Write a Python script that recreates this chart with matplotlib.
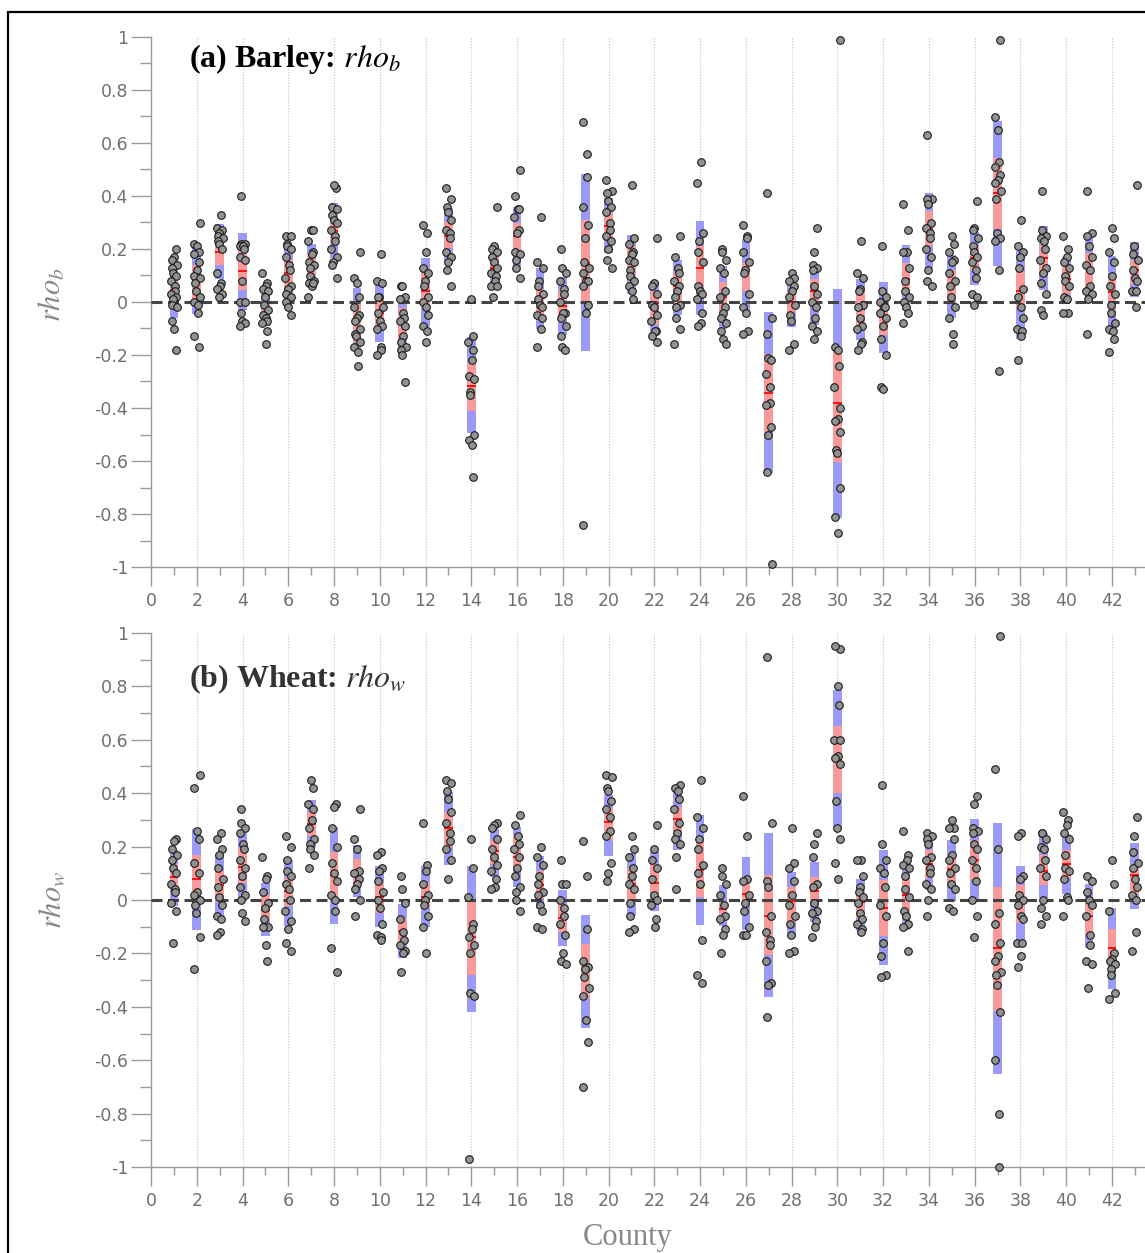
import numpy as np
import matplotlib
matplotlib.use("Agg")
import matplotlib.pyplot as plt
from matplotlib.patches import Rectangle

plt.rcParams['mathtext.fontset'] = 'stix'

counties = list(range(1, 44))

# ---------------- Panel (a) Barley ----------------
blue_lo_a = [-0.06, -0.045, 0.086, -0.03, -0.09, 0.0, 0.077, 0.166, -0.18, -0.152, -0.184, -0.094, 0.153, -0.496,
             0.045, 0.134, -0.103, -0.126, -0.184, 0.186, 0.03, -0.12, -0.05, -0.05, -0.103, -0.029, -0.645, -0.094,
             -0.087, -0.814, -0.145, -0.194, -0.032, 0.127, -0.061, 0.066, 0.136, -0.139, 0.045, -0.003, -0.003,
             -0.126, 0.019]
blue_hi_a = [0.152, 0.211, 0.294, 0.26, 0.05, 0.215, 0.22, 0.373, 0.052, 0.075, 0.017, 0.166, 0.355, -0.132,
             0.212, 0.36, 0.13, 0.095, 0.484, 0.393, 0.253, 0.079, 0.16, 0.305, 0.136, 0.238, -0.038, 0.079,
             0.123, 0.049, 0.088, 0.075, 0.214, 0.413, 0.179, 0.266, 0.683, 0.192, 0.287, 0.17, 0.253, 0.173, 0.227]
red_lo_a = [0.0, 0.01, 0.14, 0.045, -0.06, 0.05, 0.10, 0.22, -0.15, -0.10, -0.139, -0.022, 0.205, -0.41,
            0.10, 0.186, -0.048, -0.068, 0.004, 0.237, 0.10, -0.087, -0.003, 0.03, -0.061, 0.043, -0.49, -0.04,
            0.0, -0.604, -0.106, -0.126, 0.03, 0.212, 0.004, 0.12, 0.274, -0.022, 0.108, 0.03, 0.058, -0.032, 0.069]
red_hi_a = [0.09, 0.14, 0.24, 0.21, 0.0, 0.16, 0.18, 0.32, -0.004, 0.017, -0.022, 0.108, 0.30, -0.23,
            0.17, 0.30, 0.05, 0.043, 0.309, 0.34, 0.21, 0.043, 0.108, 0.21, 0.075, 0.149, -0.197, 0.04,
            0.085, -0.165, 0.05, -0.01, 0.149, 0.344, 0.12, 0.214, 0.543, 0.114, 0.214, 0.134, 0.186, 0.095, 0.16]
med_a = [0.047, 0.083, 0.19, 0.117, -0.02, 0.11, 0.145, 0.268, -0.06, -0.04, -0.084, 0.04, 0.25, -0.318,
         0.127, 0.248, 0.017, -0.016, 0.149, 0.287, 0.149, -0.003, 0.06, 0.127, 0.017, 0.12, -0.343, 0.0,
         0.04, -0.383, -0.026, -0.056, 0.086, 0.277, 0.069, 0.166, 0.41, 0.043, 0.166, 0.088, 0.127, 0.036, 0.121]
points_a = [
    [0.20, 0.17, 0.16, 0.14, 0.13, 0.11, 0.10, 0.08, 0.06, 0.04, 0.03, 0.02, 0.01, -0.01, -0.02, -0.07, -0.10, -0.18],
    [0.30, 0.22, 0.21, 0.19, 0.18, 0.15, 0.12, 0.10, 0.09, 0.07, 0.04, 0.02, 0.0, -0.01, -0.04, -0.13, -0.17],
    [0.33, 0.28, 0.27, 0.26, 0.25, 0.24, 0.23, 0.22, 0.20, 0.11, 0.07, 0.06, 0.05, 0.03, 0.02],
    [0.40, 0.22, 0.22, 0.21, 0.21, 0.20, 0.17, 0.16, 0.08, 0.0, 0.0, -0.04, -0.07, -0.08, -0.09],
    [0.11, 0.07, 0.06, 0.05, 0.04, 0.02, -0.01, -0.03, -0.05, -0.06, -0.07, -0.08, -0.11, -0.16],
    [0.25, 0.25, 0.22, 0.21, 0.20, 0.17, 0.14, 0.12, 0.09, 0.06, 0.05, 0.03, 0.02, 0.0, -0.02, -0.05],
    [0.27, 0.27, 0.23, 0.19, 0.18, 0.15, 0.14, 0.13, 0.10, 0.08, 0.07, 0.06, 0.07, 0.02],
    [0.43, 0.44, 0.36, 0.35, 0.33, 0.31, 0.30, 0.27, 0.25, 0.23, 0.20, 0.17, 0.15, 0.14, 0.09],
    [0.19, 0.09, 0.07, 0.02, -0.02, -0.05, -0.06, -0.07, -0.10, -0.12, -0.13, -0.15, -0.17, -0.19, -0.24],
    [0.18, 0.08, 0.07, 0.02, 0.02, -0.02, -0.04, -0.07, -0.09, -0.10, -0.17, -0.18, -0.20],
    [0.06, 0.06, 0.02, 0.01, -0.04, -0.06, -0.07, -0.09, -0.13, -0.15, -0.17, -0.18, -0.20, -0.30],
    [0.29, 0.26, 0.19, 0.13, 0.11, 0.08, 0.06, 0.02, 0.0, -0.02, -0.05, -0.09, -0.11, -0.15],
    [0.43, 0.39, 0.36, 0.34, 0.31, 0.27, 0.26, 0.24, 0.19, 0.17, 0.15, 0.12, 0.06],
    [0.01, -0.13, -0.15, -0.18, -0.22, -0.28, -0.29, -0.34, -0.35, -0.50, -0.52, -0.54, -0.66],
    [0.36, 0.21, 0.20, 0.19, 0.17, 0.15, 0.13, 0.11, 0.10, 0.08, 0.06, 0.06, 0.02],
    [0.50, 0.40, 0.35, 0.35, 0.32, 0.27, 0.26, 0.19, 0.18, 0.16, 0.13, 0.09],
    [0.32, 0.15, 0.13, 0.08, 0.06, 0.03, 0.01, -0.01, -0.02, -0.05, -0.06, -0.10, -0.17],
    [0.20, 0.13, 0.11, 0.08, 0.05, 0.03, 0.0, -0.04, -0.04, -0.06, -0.09, -0.13, -0.17, -0.18],
    [0.68, 0.56, 0.47, 0.36, 0.29, 0.24, 0.15, 0.13, 0.11, 0.08, 0.08, 0.06, -0.01, -0.04, -0.84],
    [0.46, 0.42, 0.41, 0.38, 0.36, 0.34, 0.30, 0.27, 0.25, 0.23, 0.20, 0.16, 0.13],
    [0.44, 0.24, 0.22, 0.19, 0.18, 0.16, 0.15, 0.12, 0.10, 0.08, 0.06, 0.04, 0.01],
    [0.24, 0.07, 0.06, 0.03, -0.01, -0.02, -0.05, -0.07, -0.11, -0.11, -0.13, -0.15],
    [0.25, 0.17, 0.13, 0.11, 0.08, 0.06, 0.04, 0.02, -0.01, -0.02, -0.06, -0.10, -0.16],
    [0.53, 0.45, 0.26, 0.23, 0.19, 0.15, 0.06, 0.04, 0.03, 0.01, -0.04, -0.08, -0.09],
    [0.20, 0.19, 0.16, 0.13, 0.11, 0.04, 0.02, -0.02, -0.04, -0.06, -0.08, -0.11, -0.14, -0.16],
    [0.29, 0.25, 0.24, 0.19, 0.15, 0.12, 0.11, 0.03, -0.02, -0.04, -0.11, -0.12],
    [0.41, -0.06, -0.12, -0.21, -0.22, -0.27, -0.32, -0.38, -0.39, -0.47, -0.50, -0.64, -0.99],
    [0.11, 0.09, 0.08, 0.06, 0.04, 0.02, -0.01, -0.05, -0.07, -0.16, -0.18],
    [0.28, 0.19, 0.14, 0.13, 0.12, 0.06, 0.03, 0.0, -0.02, -0.06, -0.09, -0.11, -0.14],
    [0.99, -0.17, -0.18, -0.24, -0.32, -0.40, -0.44, -0.45, -0.49, -0.56, -0.57, -0.70, -0.81, -0.87],
    [0.23, 0.11, 0.09, 0.05, 0.04, -0.01, -0.02, -0.06, -0.09, -0.10, -0.15, -0.16, -0.18],
    [0.21, 0.04, 0.02, 0.0, -0.02, -0.02, -0.04, -0.06, -0.09, -0.14, -0.20, -0.32, -0.33],
    [0.37, 0.27, 0.19, 0.19, 0.13, 0.08, 0.04, 0.02, 0.0, -0.02, -0.04, -0.08],
    [0.63, 0.39, 0.39, 0.37, 0.30, 0.28, 0.26, 0.24, 0.20, 0.17, 0.12, 0.08, 0.06],
    [0.25, 0.22, 0.19, 0.16, 0.15, 0.11, 0.08, 0.06, 0.02, -0.02, -0.06, -0.12, -0.16],
    [0.38, 0.28, 0.27, 0.24, 0.21, 0.19, 0.17, 0.15, 0.12, 0.09, 0.03, 0.02, -0.01],
    [0.99, 0.70, 0.65, 0.53, 0.51, 0.48, 0.46, 0.45, 0.42, 0.39, 0.26, 0.24, 0.23, 0.12, -0.26],
    [0.31, 0.21, 0.19, 0.17, 0.13, 0.05, 0.02, -0.02, -0.06, -0.10, -0.11, -0.13, -0.22],
    [0.42, 0.27, 0.25, 0.24, 0.23, 0.20, 0.16, 0.13, 0.11, 0.07, 0.03, -0.03, -0.05],
    [0.25, 0.20, 0.17, 0.15, 0.13, 0.10, 0.08, 0.06, 0.02, 0.01, -0.04, -0.04],
    [0.42, 0.26, 0.25, 0.21, 0.17, 0.14, 0.12, 0.06, 0.04, 0.03, 0.01, -0.12],
    [0.28, 0.24, 0.19, 0.15, 0.10, 0.06, 0.03, -0.01, -0.04, -0.08, -0.10, -0.11, -0.14, -0.19],
    [0.44, 0.21, 0.18, 0.16, 0.12, 0.09, 0.08, 0.04, 0.04, -0.02],
]

# ---------------- Panel (b) Wheat ----------------
blue_lo_b = [-0.022, -0.114, -0.072, -0.003, -0.133, -0.098, 0.193, -0.09, 0.01, -0.1, -0.218, -0.1, 0.132, -0.42,
             0.085, 0.05, -0.035, -0.172, -0.479, 0.163, -0.061, -0.042, 0.189, -0.094, -0.098, -0.114, -0.362,
             -0.137, -0.081, 0.268, -0.116, -0.242, -0.114, 0.037, -0.003, -0.009, -0.651, -0.159, 0.007, 0.023,
             -0.181, -0.333, -0.033]
blue_hi_b = [0.187, 0.265, 0.174, 0.252, 0.063, 0.148, 0.376, 0.275, 0.206, 0.128, -0.016, 0.128, 0.406, 0.128,
             0.265, 0.272, 0.163, 0.037, -0.055, 0.393, 0.176, 0.18, 0.411, 0.317, 0.056, 0.161, 0.252, 0.106,
             0.141, 0.785, 0.08, 0.187, 0.145, 0.239, 0.223, 0.302, 0.287, 0.128, 0.252, 0.249, 0.059, -0.029, 0.215]
red_lo_b = [0.043, -0.009, -0.009, 0.063, -0.074, -0.022, 0.239, 0.004, 0.056, -0.048, -0.166, -0.022, 0.2, -0.281,
            0.134, 0.108, 0.004, -0.12, -0.372, 0.226, 0.004, 0.004, 0.239, 0.01, -0.074, -0.022, -0.205, -0.087,
            -0.003, 0.402, -0.068, -0.133, -0.048, 0.082, 0.056, 0.076, -0.416, -0.087, 0.056, 0.082, -0.127,
            -0.251, 0.023]
red_hi_b = [0.134, 0.167, 0.108, 0.193, 0.017, 0.082, 0.33, 0.18, 0.154, 0.069, -0.068, 0.063, 0.33, -0.003,
            0.226, 0.239, 0.108, -0.016, -0.163, 0.346, 0.121, 0.134, 0.35, 0.213, -0.009, 0.082, 0.093, 0.05,
            0.085, 0.653, 0.03, 0.076, 0.082, 0.187, 0.161, 0.226, 0.05, 0.056, 0.167, 0.187, 0.004, -0.107, 0.134]
med_b = [0.085, 0.08, 0.056, 0.124, -0.038, 0.033, 0.285, 0.093, 0.108, 0.01, -0.116, 0.01, 0.268, -0.14,
         0.184, 0.161, 0.056, -0.068, -0.264, 0.294, 0.059, 0.063, 0.302, 0.111, -0.035, 0.023, -0.061, -0.003,
         0.033, 0.529, -0.009, -0.029, 0.017, 0.134, 0.115, 0.15, -0.179, -0.009, 0.108, 0.134, -0.059, -0.179, 0.093]
points_b = [
    [0.23, 0.22, 0.19, 0.17, 0.15, 0.12, 0.10, 0.06, 0.04, 0.03, -0.01, -0.04, -0.16],
    [0.47, 0.42, 0.26, 0.23, 0.14, 0.10, 0.03, 0.02, 0.0, -0.02, -0.05, -0.14, -0.26],
    [0.25, 0.23, 0.19, 0.17, 0.12, 0.08, 0.05, 0.01, -0.02, -0.06, -0.07, -0.12, -0.13],
    [0.34, 0.29, 0.27, 0.25, 0.21, 0.19, 0.15, 0.12, 0.09, 0.05, 0.02, 0.0, -0.05, -0.08],
    [0.16, 0.09, 0.08, 0.03, -0.01, -0.03, -0.07, -0.10, -0.10, -0.17, -0.23],
    [0.24, 0.20, 0.15, 0.11, 0.09, 0.06, 0.04, 0.0, -0.04, -0.08, -0.11, -0.16, -0.19],
    [0.45, 0.42, 0.36, 0.34, 0.30, 0.27, 0.23, 0.21, 0.19, 0.17, 0.12],
    [0.36, 0.35, 0.27, 0.20, 0.14, 0.10, 0.07, 0.02, 0.0, -0.04, -0.18, -0.27],
    [0.34, 0.23, 0.19, 0.11, 0.10, 0.08, 0.06, 0.04, 0.0, -0.06],
    [0.18, 0.17, 0.12, 0.11, 0.07, 0.03, 0.0, -0.03, -0.09, -0.13, -0.14, -0.15],
    [0.09, 0.04, -0.01, -0.07, -0.12, -0.15, -0.17, -0.19, -0.20, -0.27],
    [0.29, 0.13, 0.11, 0.06, 0.02, 0.0, -0.02, -0.06, -0.10, -0.20],
    [0.45, 0.44, 0.41, 0.38, 0.33, 0.29, 0.25, 0.22, 0.19, 0.15, 0.08],
    [0.23, 0.12, 0.01, -0.09, -0.11, -0.14, -0.17, -0.20, -0.35, -0.36, -0.97],
    [0.29, 0.28, 0.27, 0.23, 0.19, 0.16, 0.13, 0.11, 0.08, 0.05, 0.04],
    [0.32, 0.28, 0.24, 0.21, 0.19, 0.16, 0.12, 0.09, 0.05, 0.03, 0.0, -0.04],
    [0.20, 0.16, 0.13, 0.09, 0.06, 0.03, 0.02, -0.02, -0.04, -0.10, -0.11],
    [0.15, 0.06, 0.06, 0.0, -0.03, -0.06, -0.09, -0.13, -0.20, -0.23, -0.24],
    [0.22, 0.09, -0.11, -0.23, -0.25, -0.26, -0.29, -0.33, -0.36, -0.45, -0.53, -0.70],
    [0.47, 0.46, 0.42, 0.41, 0.37, 0.34, 0.31, 0.26, 0.24, 0.14, 0.10, 0.07],
    [0.24, 0.19, 0.16, 0.12, 0.09, 0.06, 0.04, -0.01, -0.06, -0.11, -0.12],
    [0.28, 0.19, 0.15, 0.12, 0.08, 0.02, 0.0, -0.02, -0.07, -0.10],
    [0.43, 0.42, 0.41, 0.38, 0.34, 0.29, 0.25, 0.23, 0.21, 0.16, 0.04],
    [0.45, 0.31, 0.27, 0.23, 0.19, 0.13, 0.10, 0.06, -0.15, -0.28, -0.31],
    [0.12, 0.09, 0.06, 0.02, -0.02, -0.06, -0.07, -0.11, -0.13, -0.20],
    [0.39, 0.24, 0.08, 0.07, 0.02, -0.01, -0.04, -0.10, -0.13, -0.13],
    [0.91, 0.29, 0.07, 0.05, -0.06, -0.12, -0.15, -0.17, -0.23, -0.31, -0.32, -0.44],
    [0.27, 0.14, 0.12, 0.07, 0.02, -0.02, -0.06, -0.09, -0.13, -0.19, -0.20],
    [0.25, 0.21, 0.16, 0.06, 0.05, -0.01, -0.04, -0.05, -0.08, -0.10, -0.14],
    [0.94, 0.95, 0.80, 0.73, 0.60, 0.60, 0.54, 0.53, 0.51, 0.37, 0.27, 0.23, 0.14, 0.08],
    [0.15, 0.15, 0.09, 0.05, 0.03, 0.01, -0.01, -0.05, -0.07, -0.09, -0.11, -0.12],
    [0.43, 0.21, 0.15, 0.12, 0.10, 0.05, -0.02, -0.06, -0.16, -0.21, -0.28, -0.29],
    [0.26, 0.17, 0.15, 0.13, 0.12, 0.09, 0.04, 0.01, -0.04, -0.06, -0.09, -0.10, -0.19],
    [0.25, 0.24, 0.23, 0.21, 0.16, 0.15, 0.12, 0.10, 0.06, 0.04, 0.0, -0.06],
    [0.30, 0.27, 0.27, 0.23, 0.17, 0.15, 0.12, 0.10, 0.06, 0.04, -0.03, -0.04],
    [0.39, 0.36, 0.27, 0.26, 0.25, 0.21, 0.19, 0.15, 0.12, 0.07, 0.0, -0.06, -0.14],
    [0.99, 0.49, 0.19, -0.05, -0.09, -0.16, -0.21, -0.23, -0.27, -0.28, -0.32, -0.42, -0.60, -0.80, -1.0],
    [0.25, 0.24, 0.09, 0.08, 0.02, 0.0, -0.02, -0.06, -0.07, -0.16, -0.16, -0.21, -0.25],
    [0.25, 0.25, 0.23, 0.20, 0.19, 0.15, 0.12, 0.09, 0.0, -0.03, -0.06, -0.09],
    [0.33, 0.30, 0.28, 0.25, 0.23, 0.17, 0.12, 0.11, 0.08, 0.01, 0.0, -0.06],
    [0.09, 0.07, 0.03, 0.0, -0.02, -0.06, -0.13, -0.17, -0.23, -0.24, -0.33],
    [0.15, 0.06, -0.04, -0.20, -0.22, -0.23, -0.24, -0.26, -0.28, -0.35, -0.37],
    [0.31, 0.24, 0.18, 0.14, 0.12, 0.08, 0.05, 0.02, 0.0, -0.12, -0.19],
]

ytick_vals = [-1, -0.8, -0.6, -0.4, -0.2, 0, 0.2, 0.4, 0.6, 0.8, 1]
ytick_labels = ['-1', '-0.8', '-0.6', '-0.4', '-0.2', '0', '0.2', '0.4', '0.6', '0.8', '1']
xtick_vals = list(range(0, 43, 2))

W, H = 1145, 1253
fig = plt.figure(figsize=(W / 100, H / 100), dpi=100)

BLUE = '#9b9bf7'
RED = '#f99a9a'
TICK_C = '#9a9a9a'
LABEL_C = '#707070'


def panel(ax, blo, bhi, rlo, rhi, med, pts):
    x = np.array(counties, dtype=float)
    blo, bhi, rlo, rhi, med = map(np.array, (blo, bhi, rlo, rhi, med))
    bw = 0.38
    ax.bar(x, bhi - blo, bottom=blo, width=bw, color=BLUE, zorder=2, linewidth=0)
    ax.bar(x, rhi - rlo, bottom=rlo, width=bw, color=RED, zorder=3, linewidth=0)
    ax.hlines(med, x - bw / 2, x + bw / 2, color='#ff1010', lw=1.4, zorder=4)
    ax.axhline(0, color='#444444', lw=2.2, ls=(0, (3.6, 1.8)), zorder=5)
    for c, vals in zip(counties, pts):
        vals = np.array(vals)
        k = np.arange(len(vals))
        jit = 0.13 * np.sin(k * 2.3 + c * 0.9)
        ax.scatter(c + jit, vals, s=30, facecolor='#929292', edgecolor='#1a1a1a',
                   linewidth=0.8, zorder=6, clip_on=False)
    ax.set_xlim(0, 994 / 22.88)
    ax.set_ylim(-1, 1)
    ax.set_yticks(ytick_vals)
    ax.set_yticklabels(ytick_labels)
    ax.set_yticks(np.arange(-0.9, 1.0, 0.2), minor=True)
    ax.set_xticks(xtick_vals)
    ax.set_xticks(range(1, 44, 2), minor=True)
    for s in ('top', 'right'):
        ax.spines[s].set_visible(False)
    for s in ('left', 'bottom'):
        ax.spines[s].set_color(TICK_C)
        ax.spines[s].set_linewidth(1.0)
    ax.tick_params(axis='y', which='major', direction='out', length=14.5, width=1.0,
                   color=TICK_C, labelcolor=LABEL_C, labelsize=12.5, pad=2)
    ax.tick_params(axis='y', which='minor', direction='out', length=8, width=1.0, color=TICK_C)
    ax.tick_params(axis='x', which='major', direction='out', length=14, width=1.0,
                   color=TICK_C, labelcolor=LABEL_C, labelsize=12.5, pad=4)
    ax.tick_params(axis='x', which='minor', direction='out', length=6, width=1.0, color=TICK_C)
    for lab in ax.get_xticklabels() + ax.get_yticklabels():
        lab.set_fontfamily('DejaVu Sans')
    ax.grid(axis='x', which='major', ls=(0, (1, 1.5)), color='#c4c4c4', lw=0.8, zorder=0)
    ax.set_axisbelow(True)


ax1 = fig.add_axes([151 / W, 1 - 567 / H, (W - 151) / W, 530 / H])
panel(ax1, blue_lo_a, blue_hi_a, red_lo_a, red_hi_a, med_a, points_a)
ax2 = fig.add_axes([151 / W, 1 - 1167 / H, (W - 151) / W, 534 / H])
panel(ax2, blue_lo_b, blue_hi_b, red_lo_b, red_hi_b, med_b, points_b)

ax1.text(189 / W, 1 - 59 / H, '(a) Barley: $rho_b$', transform=fig.transFigure, ha='left', va='center',
         fontsize=23, fontweight='bold', fontfamily='Liberation Serif', color='black')
ax2.text(189 / W, 1 - 679 / H, '(b) Wheat: $rho_w$', transform=fig.transFigure, ha='left', va='center',
         fontsize=23, fontweight='bold', fontfamily='Liberation Serif', color='#333333')

fig.text(52 / W, 1 - 295 / H, '$rho_b$', rotation=90, ha='center', va='center', fontsize=22, color='#888888')
fig.text(52 / W, 1 - 900 / H, '$rho_w$', rotation=90, ha='center', va='center', fontsize=22, color='#888888')
fig.text(628 / W, 1 - 1238 / H, 'County', ha='center', va='center', fontsize=22,
         fontfamily='Liberation Serif', color='#888888')

fig.add_artist(Rectangle((8 / W, -0.05), 2.0, 1.05 - 12 / H, transform=fig.transFigure,
                         fill=False, ec='black', lw=1.6))

fig.savefig('out.png', dpi=100)
